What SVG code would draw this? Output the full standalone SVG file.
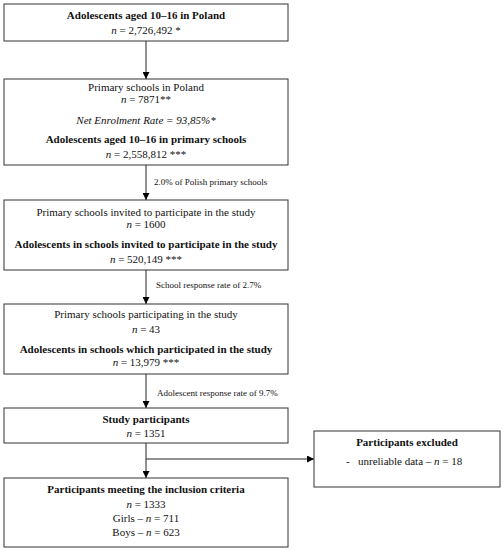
<svg xmlns="http://www.w3.org/2000/svg" width="504" height="550" viewBox="0 0 504 550">
<defs>
<marker id="ah" viewBox="0 0 10 10" refX="10" refY="5" markerWidth="7" markerHeight="7" markerUnits="userSpaceOnUse" orient="auto">
<path d="M0,0 L10,5 L0,10 z" fill="#000"/>
</marker>
</defs>
<style>
.box{fill:#fff;stroke:#333;stroke-width:1}
text{font-family:"Liberation Serif","DejaVu Serif",serif;font-size:11px;fill:#111;text-anchor:middle}
.b{font-weight:bold}
.i{font-style:italic}
.lbl{font-size:9px;text-anchor:start}
.st{text-anchor:start}
.c{stroke:#222;stroke-width:1;fill:none}
</style>
<rect width="504" height="550" fill="#fff"/>
<g id="connectors">
<line class="c" x1="146" y1="41" x2="146" y2="79" marker-end="url(#ah)"/>
<line class="c" x1="146" y1="165" x2="146" y2="200" marker-end="url(#ah)"/>
<line class="c" x1="146" y1="270" x2="146" y2="304" marker-end="url(#ah)"/>
<line class="c" x1="146" y1="374" x2="146" y2="408" marker-end="url(#ah)"/>
<line class="c" x1="146" y1="443" x2="146" y2="478" marker-end="url(#ah)"/>
<line class="c" x1="146" y1="459" x2="314" y2="459" marker-end="url(#ah)"/>
<text class="lbl" x="154" y="185">2.0% of Polish primary schools</text>
<text class="lbl" x="156" y="288">School response rate of 2.7%</text>
<text class="lbl" x="157" y="396">Adolescent response rate of 9.7%</text>
</g>
<g id="n1">
<rect class="box" x="4" y="4" width="284" height="37"/>
<text class="b" x="146" y="19">Adolescents aged 10–16 in Poland</text>
<text x="146" y="34"><tspan class="i">n</tspan> = 2,726,492 *</text>
</g>
<g id="n2">
<rect class="box" x="4" y="79" width="284" height="86"/>
<text x="146" y="91">Primary schools in Poland</text>
<text x="146" y="103"><tspan class="i">n</tspan> = 7871**</text>
<text class="i" x="146" y="124">Net Enrolment Rate = 93,85%*</text>
<text class="b" x="146" y="143">Adolescents aged 10–16 in primary schools</text>
<text x="146" y="158"><tspan class="i">n</tspan> = 2,558,812 ***</text>
</g>
<g id="n3">
<rect class="box" x="4" y="200" width="284" height="70"/>
<text x="146" y="216">Primary schools invited to participate in the study</text>
<text x="146" y="228"><tspan class="i">n</tspan> = 1600</text>
<text class="b" x="146" y="248">Adolescents in schools invited to participate in the study</text>
<text x="146" y="263"><tspan class="i">n</tspan> = 520,149 ***</text>
</g>
<g id="n4">
<rect class="box" x="4" y="304" width="284" height="70"/>
<text x="146" y="318">Primary schools participating in the study</text>
<text x="146" y="333"><tspan class="i">n</tspan> = 43</text>
<text class="b" x="146" y="353">Adolescents in schools which participated in the study</text>
<text x="146" y="366"><tspan class="i">n</tspan> = 13,979 ***</text>
</g>
<g id="n5">
<rect class="box" x="4" y="408" width="284" height="35"/>
<text class="b" x="146" y="423">Study participants</text>
<text x="146" y="437"><tspan class="i">n</tspan> = 1351</text>
</g>
<g id="n6">
<rect class="box" x="314" y="431" width="186" height="56"/>
<text class="b" x="407" y="446">Participants excluded</text>
<text class="st" x="346" y="465">-</text>
<text class="st" x="358" y="465">unreliable data – <tspan class="i">n</tspan> = 18</text>
</g>
<g id="n7">
<rect class="box" x="4" y="478" width="284" height="69"/>
<text class="b" x="146" y="493">Participants meeting the inclusion criteria</text>
<text x="146" y="508"><tspan class="i">n</tspan> = 1333</text>
<text x="146" y="522">Girls – <tspan class="i">n</tspan> = 711</text>
<text x="146" y="536">Boys – <tspan class="i">n</tspan> = 623</text>
</g>
</svg>
